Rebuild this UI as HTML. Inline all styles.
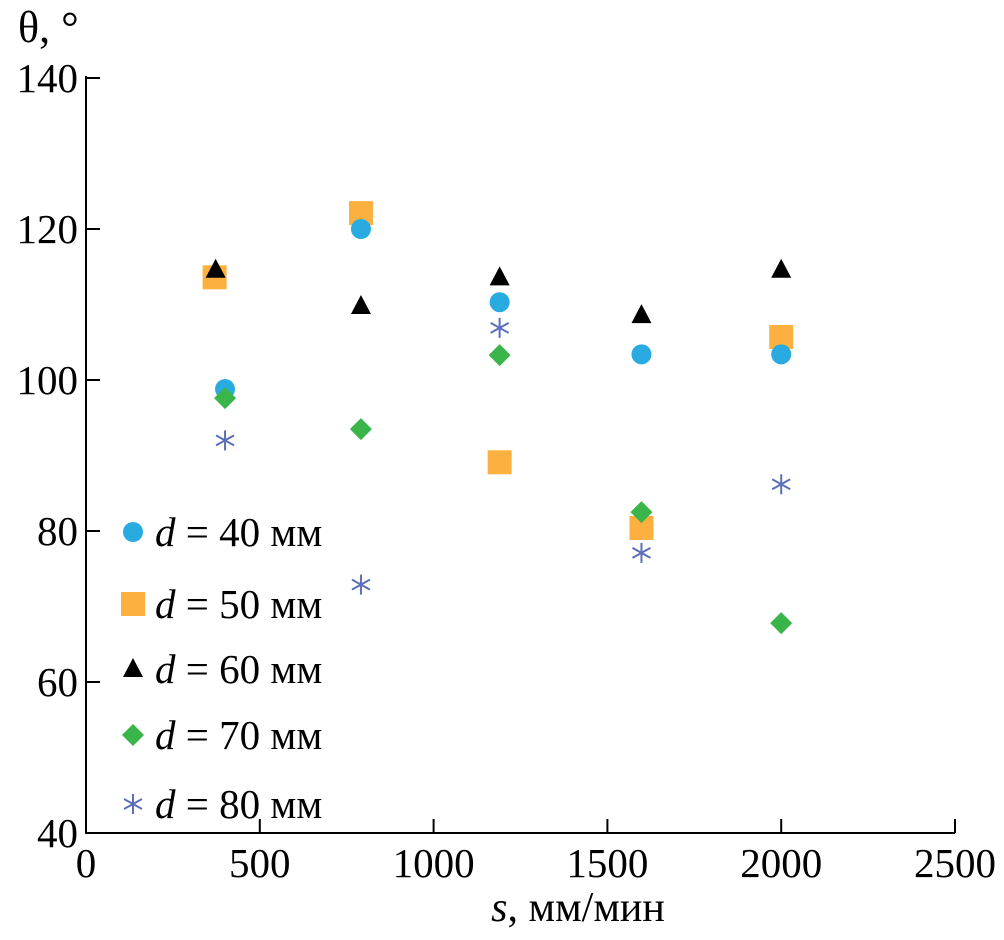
<!DOCTYPE html>
<html><head><meta charset="utf-8"><style>
body{margin:0;background:#fff}
svg text{font-family:"Liberation Serif",serif;fill:#000}
</style></head><body>
<svg id="chart" width="1004" height="935">
<g id="axes"></g><g id="marks"></g><g id="legend"></g>
</svg>
<script>
const xTicks=[0,500,1000,1500,2000,2500];
const yTicks=[40,60,80,100,120,140];
const seriesNames=["d = 40 мм","d = 50 мм","d = 60 мм","d = 70 мм","d = 80 мм"];
const x40=[400,791,1190,1598,2000], y40=[98.8,120,110.3,103.4,103.4];
const x50=[370,791,1190,1598,2000], y50=[113.6,122.1,89.1,80.4,105.7];
const x60=[373,791,1190,1598,2000], y60=[114.6,109.8,113.6,108.6,114.6];
const x70=[400,791,1190,1598,2000], y70=[97.6,93.5,103.3,82.5,67.8];
const x80=[400,791,1190,1598,2000], y80=[92,72.9,106.9,77.1,86.2];
const NS="http://www.w3.org/2000/svg";
const X=v=>86+v*(955-86)/2500;
const Y=v=>833-(v-40)*(833-78)/100;
function mk(tag,attrs,parent){const e=document.createElementNS(NS,tag);for(const k in attrs)e.setAttribute(k,attrs[k]);parent.appendChild(e);return e;}
const axes=document.getElementById('axes'),marks=document.getElementById('marks'),legend=document.getElementById('legend');
let ax=mk('path',{d:`M86 76V833H955`,fill:'none',stroke:'#000','stroke-width':2},axes);

xTicks.forEach(v=>{
 let t=mk('line',{x1:X(v),x2:X(v),y1:833,y2:819,stroke:'#000','stroke-width':2},axes);
 
 let l=mk('text',{x:X(v),y:877,'text-anchor':'middle','font-size':41},axes);l.textContent=v;
 
});
yTicks.forEach(v=>{
 let t=mk('line',{x1:86,x2:100,y1:Y(v),y2:Y(v),stroke:'#000','stroke-width':2},axes);
 
 let l=mk('text',{x:78,y:Y(v)+14,'text-anchor':'end','font-size':41},axes);l.textContent=v;
 
});
let yt=mk('text',{x:18,y:42,'font-size':44},axes);yt.textContent='θ, °';

let xt=mk('text',{x:578,y:921,'text-anchor':'middle','font-size':42},axes);
xt.innerHTML='<tspan font-style="italic">s</tspan>, мм/мин';

function marker(type,cx,cy,parent){
 let e;
 if(type==0)e=mk('circle',{cx,cy,r:10,fill:'#29abe2'},parent);
 else if(type==1)e=mk('rect',{x:cx-12,y:cy-12,width:24,height:24,fill:'#fbb040'},parent);
 else if(type==2)e=mk('polygon',{points:`${cx},${cy-11} ${cx-10},${cy+8} ${cx+10},${cy+8}`,fill:'#000'},parent);
 else if(type==3)e=mk('polygon',{points:`${cx},${cy-11} ${cx+11},${cy} ${cx},${cy+11} ${cx-11},${cy}`,fill:'#39b54a'},parent);
 else e=mk('path',{d:`M${cx} ${cy-10}V${cy+10}M${cx-9} ${cy-5}L${cx+9} ${cy+5}M${cx-9} ${cy+5}L${cx+9} ${cy-5}`,stroke:'#5b6fb8','stroke-width':2,fill:'none'},parent);
 return e;
}
const xs=[x40,x50,x60,x70,x80], ys=[y40,y50,y60,y70,y80];
const order=[1,0,2,3,4];
order.forEach(s=>{
 xs[s].forEach((v,i)=>{
  const e=marker(s,X(v),Y(ys[s][i]),marks);
  
  
 });
});
const ly=[532,604,669,735,804];
seriesNames.forEach((n,s)=>{
 const m=marker(s,133,ly[s],legend);
 
 const t=mk('text',{x:155,y:ly[s]+14,'font-size':41},legend);
 t.innerHTML='<tspan font-style="italic">d</tspan>'+n.slice(1);
 
});
</script>
</body></html>
